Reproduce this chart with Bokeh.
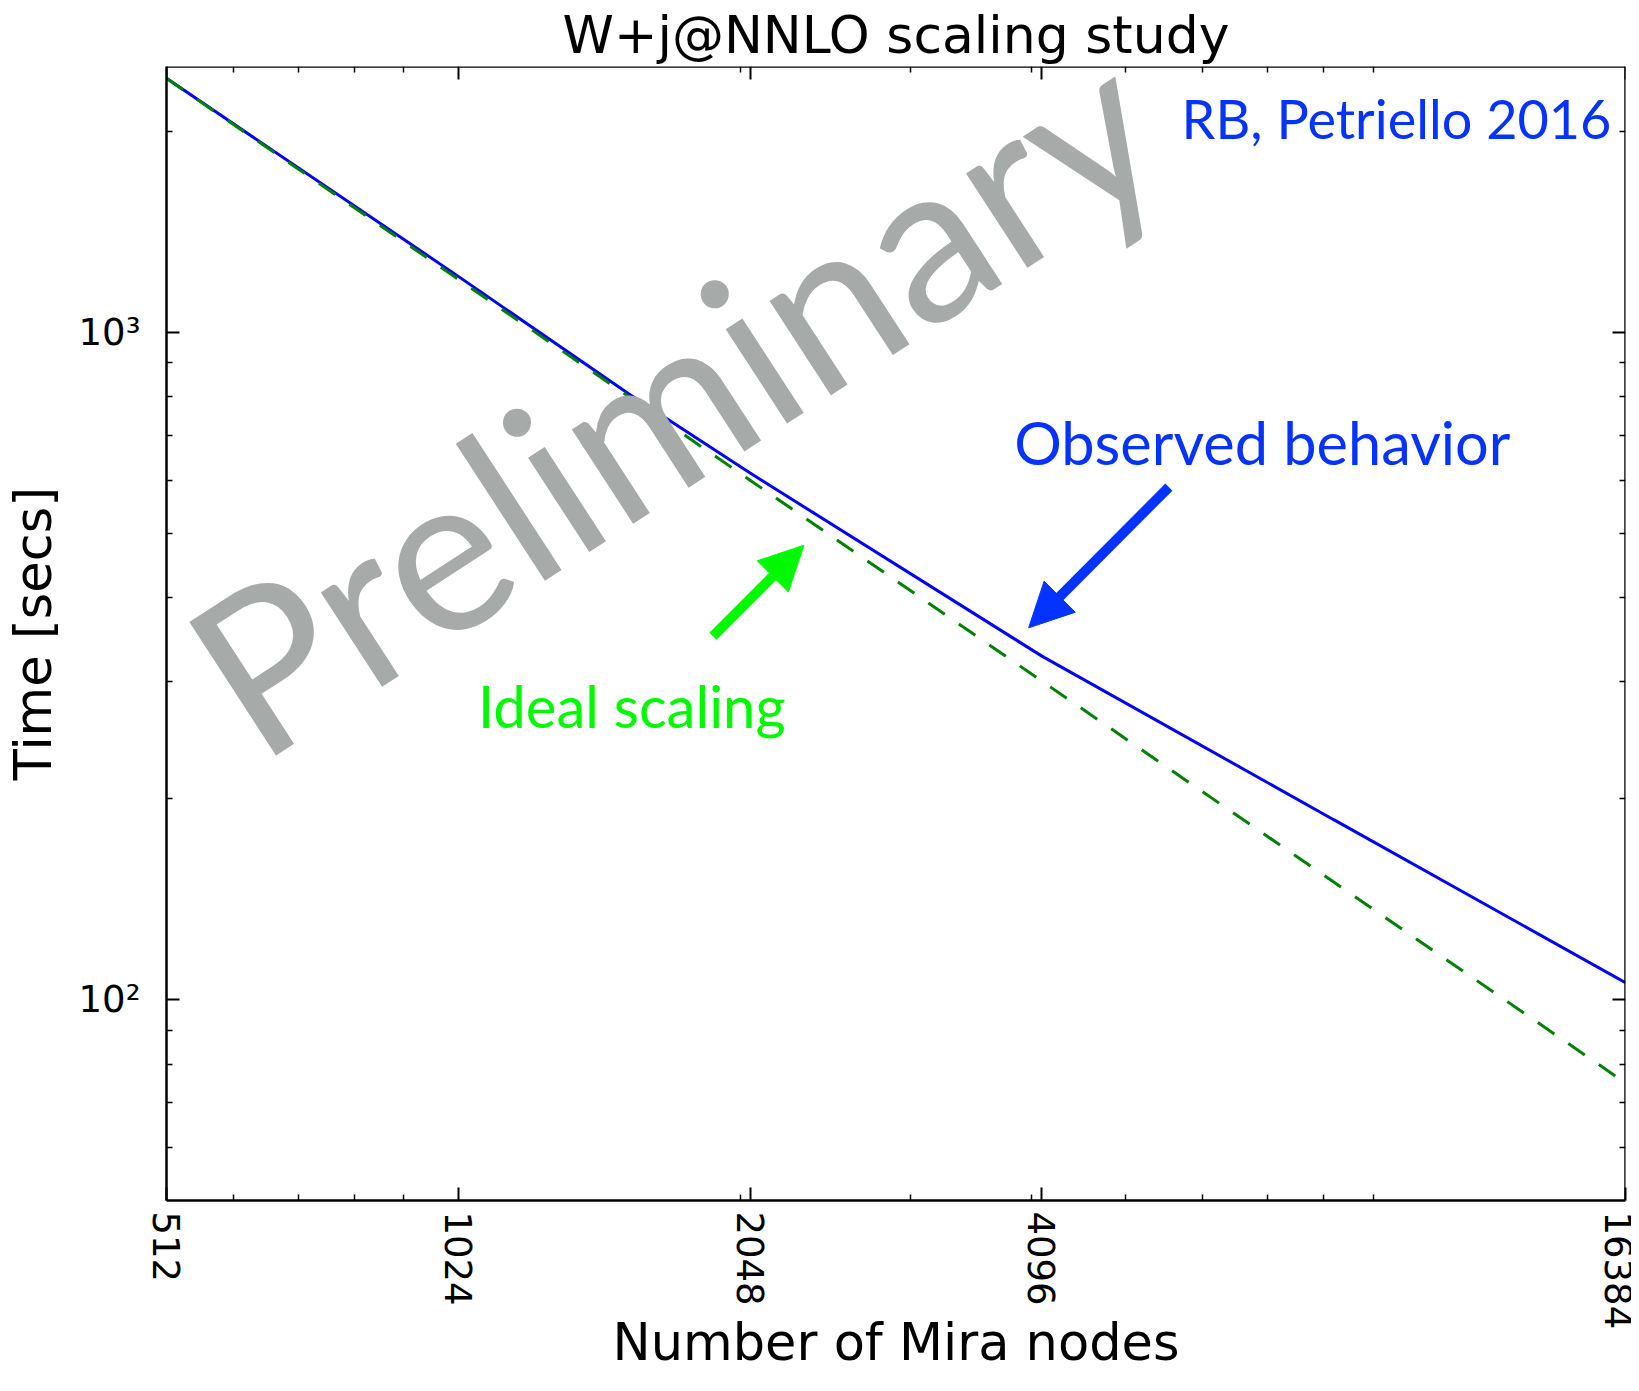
from bokeh.plotting import figure
from bokeh.models import LogAxis, FixedTicker, Label, Arrow, NormalHead
from bokeh.embed import file_html
from bokeh.resources import INLINE

# ---- data ----
nodes = [512, 1024, 1536, 2048, 4096, 8192, 16384]
observed = [2400, 1212, 808, 615, 327, 186, 106]
ideal = [2400, 1200, 800, 600, 300, 150, 75]

x_major = [512, 1024, 2048, 4096, 16384]
x_minor = [600, 700, 800, 900, 2000, 3000, 4000, 5000, 6000, 7000, 8000, 9000]
x_labels = {512: "512", 1024: "1024", 2048: "2048", 4096: "4096", 16384: "16384"}
y_major = [100, 1000]
y_minor = [60, 70, 80, 90, 200, 300, 400, 500, 600, 700, 800, 900, 2000]
y_labels = {100: "10²", 1000: "10³"}

X_MIN, X_MAX = 512, 16384
Y_MIN, Y_MAX = 50, 2500

BLUE_TXT = "#0433ff"
GREEN_TXT = "#00f900"
GRAY = "#a6aaa9"

p = figure(width=1631, height=1375, x_axis_type="log", y_axis_type="log",
           x_range=(X_MIN, X_MAX), y_range=(Y_MIN, Y_MAX),
           output_backend="svg", toolbar_location=None,
           min_border_left=160, min_border_right=6,
           min_border_top=63, min_border_bottom=175,
           title="W+j@NNLO scaling study")

p.title.text_font = "DejaVu Sans"
p.title.text_font_size = "52px"
p.title.text_font_style = "normal"
p.title.text_color = "black"
p.title.align = "center"
p.title.standoff = 4

p.xgrid.visible = False
p.ygrid.visible = False
p.outline_line_color = None
p.background_fill_color = "white"
p.border_fill_color = "white"


def style_axis(ax, major, minor):
    ax.ticker = FixedTicker(ticks=major, minor_ticks=minor)
    ax.axis_line_color = "black"
    ax.axis_line_width = 2.5
    ax.major_tick_in = 13
    ax.major_tick_out = 0
    ax.minor_tick_in = 6
    ax.minor_tick_out = 0
    ax.major_tick_line_color = "black"
    ax.minor_tick_line_color = "black"
    ax.major_tick_line_width = 2
    ax.minor_tick_line_width = 1.5
    ax.major_label_text_color = "black"
    ax.major_label_text_font = "DejaVu Sans"
    ax.major_label_text_font_size = "37px"
    ax.axis_label_text_font = "DejaVu Sans"
    ax.axis_label_text_font_size = "51px"
    ax.axis_label_text_font_style = "normal"
    ax.axis_label_text_color = "black"


xa = p.xaxis[0]
style_axis(xa, x_major, x_minor)
xa.major_label_overrides = x_labels
xa.major_label_orientation = "vertical"
xa.major_label_standoff = 11
xa.axis_label = "Number of Mira nodes"
xa.axis_label_standoff = -19

ya = p.yaxis[0]
style_axis(ya, y_major, y_minor)
ya.major_label_overrides = y_labels
ya.major_label_standoff = 26
ya.axis_label = "Time [secs]"
ya.axis_label_standoff = 13

# mirrored axes (ticks only) pinned to the frame edges, taking no border space
for side, major, minor, loc in (("above", x_major, x_minor, Y_MAX),
                                ("right", y_major, y_minor, X_MAX)):
    ax = LogAxis(fixed_location=loc)
    style_axis(ax, major, minor)
    ax.major_label_text_font_size = "0px"
    ax.major_label_standoff = 0
    ax.major_label_overrides = {t: "" for t in major}
    p.add_layout(ax, side)

# ---- series ----
p.line(nodes, observed, line_color="#0000ff", line_width=3)
p.line(nodes, ideal, line_color="#008000", line_width=3, line_dash="20 17")

# ---- annotations ----
p.add_layout(Label(x=570.7, y=286.5, text="Preliminary", angle=33, angle_units="deg",
                   text_font="Lato", text_font_size="222px", text_color=GRAY,
                   text_align="left", text_baseline="alphabetic"))

p.add_layout(Label(x=15846, y=2086, text="RB, Petriello 2016", text_font="Lato",
                   text_font_size="54px", text_color=BLUE_TXT,
                   text_align="right", text_baseline="alphabetic"))
p.add_layout(Label(x=3835, y=684, text="Observed behavior", text_font="Lato",
                   text_font_size="59.5px", text_color=BLUE_TXT,
                   text_align="left", text_baseline="alphabetic"))
p.add_layout(Label(x=1073, y=275.6, text="Ideal scaling", text_font="Lato",
                   text_font_size="58px", text_color=GREEN_TXT,
                   text_align="left", text_baseline="alphabetic"))

p.add_layout(Arrow(x_start=5538, y_start=585.8, x_end=3969, y_end=360.5,
                   line_color=BLUE_TXT, line_width=10,
                   end=NormalHead(size=44, fill_color=BLUE_TXT, line_color=BLUE_TXT)))
p.add_layout(Arrow(x_start=1875, y_start=350.2, x_end=2327, y_end=479.4,
                   line_color=GREEN_TXT, line_width=10,
                   end=NormalHead(size=44, fill_color=GREEN_TXT, line_color=GREEN_TXT)))

open("out.html", "w").write(file_html(p, INLINE))
